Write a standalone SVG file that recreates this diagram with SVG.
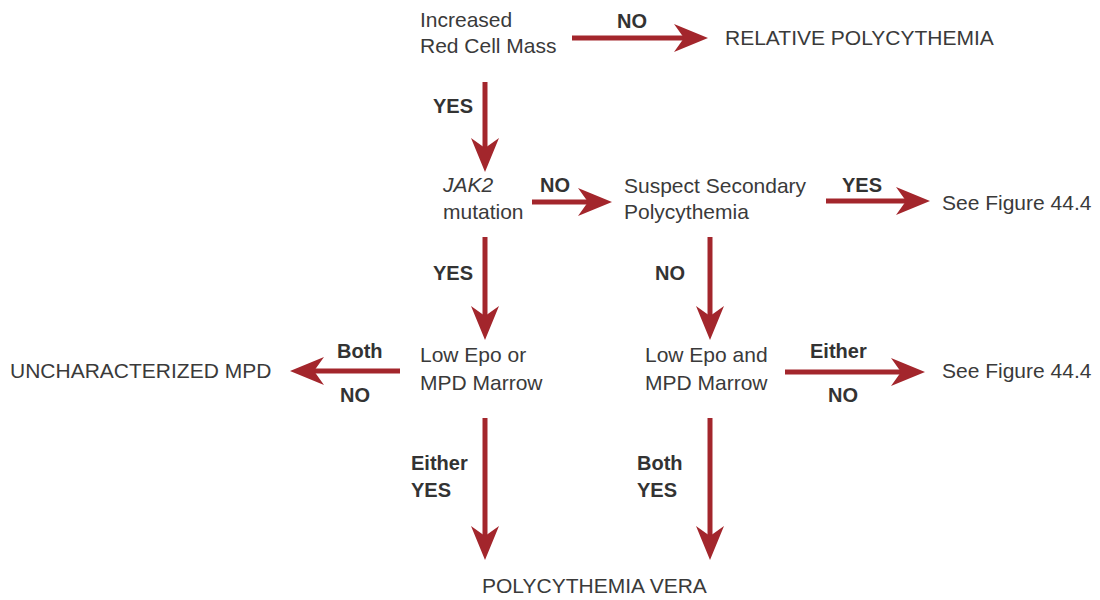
<svg xmlns="http://www.w3.org/2000/svg" width="1100" height="600" viewBox="0 0 1100 600">
<defs>
<style>
.t{font-family:"Liberation Sans",Arial,sans-serif;font-size:21px;fill:#3a3a3a}
.b{font-family:"Liberation Sans",Arial,sans-serif;font-size:20px;font-weight:bold;fill:#333}
.i{font-style:italic}
.c{stroke:#a3262c;stroke-width:5;fill:none}
</style>
<marker id="ah" viewBox="0 -14 34 28" refX="12" refY="0" markerWidth="34" markerHeight="28" markerUnits="userSpaceOnUse" orient="auto">
<path d="M0,-14 L34,0 L0,14 L10,0 z" fill="#a3262c"/>
</marker>
</defs>
<rect width="1100" height="600" fill="#fff"/>
<g id="connectors">
<line class="c" x1="572" y1="38" x2="686" y2="38" marker-end="url(#ah)"/>
<line class="c" x1="485" y1="82" x2="485" y2="150" marker-end="url(#ah)"/>
<line class="c" x1="532" y1="202" x2="590" y2="202" marker-end="url(#ah)"/>
<line class="c" x1="826" y1="201" x2="908" y2="201" marker-end="url(#ah)"/>
<line class="c" x1="485" y1="237" x2="485" y2="318" marker-end="url(#ah)"/>
<line class="c" x1="710" y1="237" x2="710" y2="318" marker-end="url(#ah)"/>
<line class="c" x1="400" y1="371" x2="312" y2="371" marker-end="url(#ah)"/>
<line class="c" x1="785" y1="372" x2="903" y2="372" marker-end="url(#ah)"/>
<line class="c" x1="485" y1="418" x2="485" y2="538" marker-end="url(#ah)"/>
<line class="c" x1="710" y1="418" x2="710" y2="538" marker-end="url(#ah)"/>
<text class="b" x="617" y="28">NO</text>
<text class="b" x="433" y="113">YES</text>
<text class="b" x="540" y="192">NO</text>
<text class="b" x="842" y="192">YES</text>
<text class="b" x="433" y="280">YES</text>
<text class="b" x="655" y="280">NO</text>
<text class="b" x="337" y="358">Both</text>
<text class="b" x="340" y="402">NO</text>
<text class="b" x="810" y="358">Either</text>
<text class="b" x="828" y="402">NO</text>
<text class="b" x="411" y="470">Either</text>
<text class="b" x="411" y="497">YES</text>
<text class="b" x="637" y="470">Both</text>
<text class="b" x="637" y="497">YES</text>
</g>
<g id="n-increased"><text class="t" x="420" y="27">Increased</text><text class="t" x="420" y="53">Red Cell Mass</text></g>
<g id="n-relative"><text class="t" x="725" y="45">RELATIVE POLYCYTHEMIA</text></g>
<g id="n-jak2"><text class="t" x="443" y="192"><tspan class="i">JAK2</tspan></text><text class="t" x="443" y="219">mutation</text></g>
<g id="n-suspect"><text class="t" x="624" y="193">Suspect Secondary</text><text class="t" x="624" y="219">Polycythemia</text></g>
<g id="n-fig1"><text class="t" x="942" y="210">See Figure 44.4</text></g>
<g id="n-lowor"><text class="t" x="420" y="362">Low Epo or</text><text class="t" x="420" y="390">MPD Marrow</text></g>
<g id="n-unchar"><text class="t" x="10" y="378">UNCHARACTERIZED MPD</text></g>
<g id="n-lowand"><text class="t" x="645" y="362">Low Epo and</text><text class="t" x="645" y="390">MPD Marrow</text></g>
<g id="n-fig2"><text class="t" x="942" y="378">See Figure 44.4</text></g>
<g id="n-pv"><text class="t" x="482" y="593">POLYCYTHEMIA VERA</text></g>
</svg>
